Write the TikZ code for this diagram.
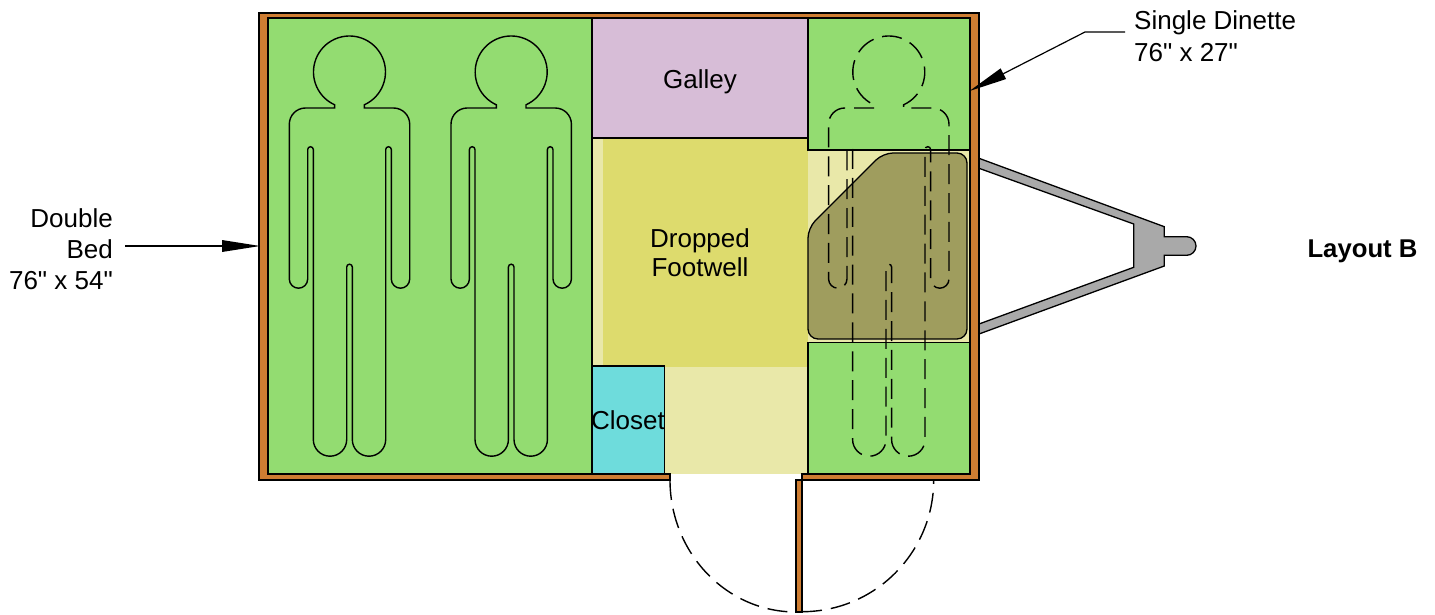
\documentclass[tikz,border=0pt]{standalone}
\usepackage{fontspec}
\newfontfamily\plainsans{Liberation Sans}
\usetikzlibrary{arrows.meta}
\definecolor{wallc}{HTML}{CE7D32}
\definecolor{bedc}{HTML}{93DC71}
\definecolor{tablec}{HTML}{9F9D5E}
\definecolor{wellc}{HTML}{DDDB6D}
\definecolor{floorc}{HTML}{E9E8A9}
\definecolor{closetc}{HTML}{6EDCDC}
\definecolor{galleyc}{HTML}{D7BDD7}
\definecolor{tonguec}{HTML}{A9A9A9}
\tikzset{
  outline/.style={draw=black,line width=1.3pt,line join=miter},
  personline/.style={draw=black,line width=1.4pt},
  personhidden/.style={personline,dash pattern=on 20pt off 8.9pt},
  label/.style={font=\plainsans\fontsize{26}{#1}\selectfont,inner sep=0pt,text=black},
  label/.default=31,
  leader/.style={draw=black,line width=1.2pt,-{Triangle[length=38pt,width=12pt,line width=0pt,fill=black]}},
}
\newcommand{\personpath}{
  (-14.8,108) -- (-44,108)
  arc[start angle=270,end angle=180,radius=16.2]
  -- (-60.2,279) arc[start angle=180,end angle=0,radius=9.2]
  -- (-41.8,149.5) arc[start angle=180,end angle=360,radius=2.8]
  -- (-36.2,439.5) arc[start angle=180,end angle=0,radius=16.7]
  -- (-2.8,267) arc[start angle=180,end angle=360,radius=2.8]
  -- (2.8,439.5) arc[start angle=180,end angle=0,radius=16.7]
  -- (36.2,149.5) arc[start angle=180,end angle=360,radius=2.8]
  -- (41.8,279) arc[start angle=180,end angle=0,radius=9.2]
  -- (60.2,124.2) arc[start angle=0,end angle=-90,radius=16.2]
  -- (14.8,108) -- (14.8,104.8)
  arc[start angle=65.7,end angle=-245.7,radius=36] -- cycle
}
\begin{document}
\begin{tikzpicture}[x=1pt,y=-1pt]
\useasboundingbox (0,0) rectangle (1435,615);
% floor
\fill[floorc] (592,138) rectangle (808,474);
\fill[wellc] (603,138) rectangle (808,367);
\fill[floorc] (808,150) rectangle (970,343);
% tongue
\draw[outline,fill=tonguec] (979,158.3) -- (1164.3,226.7) -- (1164.3,236.7) -- (1186.7,236.7)
  arc[start angle=-90,end angle=90,radius=9.3]
  -- (1164.3,255.3) -- (1164.3,266) -- (979,334) -- (979,324) -- (1133.7,267.3) -- (1133.7,224) -- (979,168.3) -- cycle;
% furniture
\draw[outline,fill=bedc] (268,18) rectangle (592,474);
\draw[outline,fill=galleyc] (592,18) rectangle (808,138);
\draw[outline,fill=bedc] (808,18) rectangle (970,150);
\draw[outline,fill=bedc] (808,342.5) rectangle (970,474);
\draw[outline,fill=closetc] (592,366) rectangle (664.5,474);
\draw[outline,fill=tablec,rounded corners=10pt] (808,228) -- (883,153) -- (967,153) -- (967,339) -- (808,339) -- cycle;
% people
\draw[personline,xshift=349.5pt] \personpath;
\draw[personline,xshift=511.2pt] \personpath;
\draw[personhidden,xshift=888.8pt] \personpath;
% walls
\draw[outline,fill=wallc] (259,13) -- (979,13) -- (979,480) -- (802,480) -- (802,474) -- (970,474) -- (970,18) -- (268,18) -- (268,474) -- (670,474) -- (670,480) -- (259,480) -- cycle;
\draw[outline,fill=wallc] (796,480) rectangle (802,612);
% door swing
\draw[personline,dash pattern=on 20pt off 9pt] (670,480) arc[start angle=180,end angle=90,x radius=126,y radius=132];
\draw[personline,dash pattern=on 20pt off 9pt] (802,611.7) arc[start angle=90,end angle=0,radius=131.7];
% labels
\node[label,align=center] (galley) at (700,81.5) {Galley};
\node[label=29,align=center] (well) at (700,252.5) {Dropped\\Footwell};
\node[label] (closet) at (628,420) {Closet};
\node[label,align=right,anchor=east] (dbl) at (113,249.5) {Double\\Bed\\76" x 54"};
\node[label=32,align=left,anchor=west] (sgl) at (1134,36) {Single Dinette\\76" x 27"};
\node[label,font=\plainsans\fontsize{25.7}{31}\selectfont\bfseries] (lay) at (1362.5,251) {Layout B};
% leaders
\coordinate (dblstart) at (125,246);
\coordinate (dblend) at (260,246);
\coordinate (sglstart) at (1125,32);
\coordinate (sglbend) at (1085,32);
\coordinate (sglend) at (969.5,91);
\draw[leader] (dblstart) -- (dblend);
\draw[leader] (sglstart) -- (sglbend) -- (sglend);
\end{tikzpicture}
\end{document}
